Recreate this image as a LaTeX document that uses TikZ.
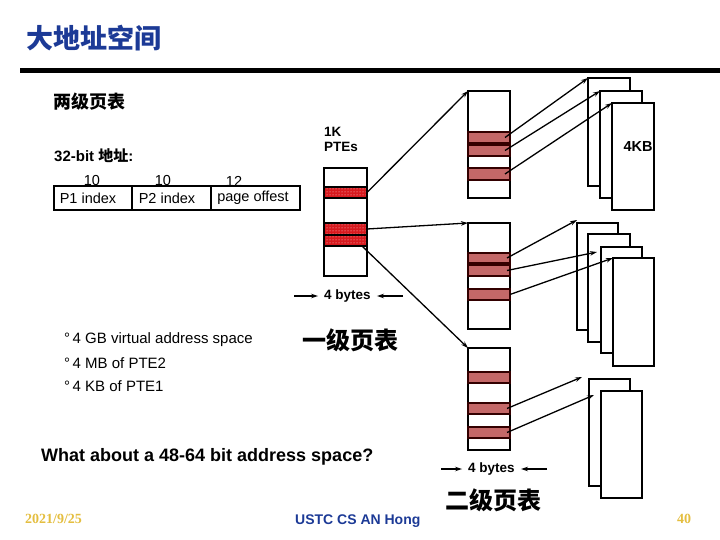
\documentclass[tikz,border=0pt]{standalone}
\usepackage{fontspec}
\setmainfont{Liberation Sans}
\newfontfamily\cjk{Noto Sans CJK SC}
\newfontfamily\serifb{Liberation Serif}
\usetikzlibrary{arrows.meta,patterns}
\definecolor{ttlblue}{RGB}{28,58,150}
\definecolor{gold}{RGB}{228,190,64}
\definecolor{redA}{RGB}{215,25,30}
\definecolor{redB}{RGB}{196,104,104}
\newcommand\rnode[6]{\node[#2, anchor=north west, minimum width={(#5-#3)*1pt}, minimum height={(#6-#4)*1pt}] (#1) at (#3,#4) {};}
\begin{document}
\begin{tikzpicture}[x=1pt,y=-1pt,
  tbl/.style={draw, line width=1.6pt, fill=white, inner sep=0pt, outer sep=0pt, rectangle},
  rowA/.style={draw, line width=1.3pt, inner sep=0pt, outer sep=0pt, rectangle, preaction={fill=redA}, pattern=dots, pattern color=white!85!redA},
  rowB/.style={draw=black!80!red, line width=1.6pt, inner sep=0pt, outer sep=0pt, rectangle, fill=redB},
  frame/.style={draw, line width=1.6pt, fill=white, inner sep=0pt, outer sep=0pt, rectangle},
  arr/.style={-{Stealth[length=7pt,width=4.5pt]}, line width=1.3pt},
  txt/.style={inner sep=0pt, font=\fontsize{14.5}{16}\selectfont},
  btxt/.style={inner sep=0pt, font=\bfseries\fontsize{14}{16}\selectfont},
  big/.style={inner sep=0pt, font=\cjk\bfseries\fontsize{24}{28}\selectfont}]
\useasboundingbox (0,0) rectangle (720,540);

% title and rule
\node[anchor=west, inner sep=0pt, text=ttlblue, font=\cjk\bfseries\fontsize{27}{30}\selectfont] (title) at (26,38) {大地址空间};
\fill (20,68) rectangle (720,73);
\node[anchor=west, inner sep=0pt, font=\cjk\bfseries\fontsize{18}{20}\selectfont] (two) at (53,102) {两级页表};

% address format
\node[anchor=west, inner sep=0pt, font=\bfseries\fontsize{15}{17}\selectfont] (addr) at (54,156) {32-bit {\cjk\bfseries 地址}:};
\rnode{c1}{tbl}{54}{186}{132}{210}
\rnode{c2}{tbl}{132}{186}{211}{210}
\rnode{c3}{tbl}{211}{186}{300}{210}
\node[txt] (n1) at (92,181) {10};
\node[txt] (n2) at (163,181) {10};
\node[txt] (n3) at (234,181) {12};
\node[txt] (l1) at (88,198) {P1 index};
\node[txt] (l2) at (167,198) {P2 index};
\node[txt] (l3) at (253,198) {page offest};

% first-level table
\node[btxt, anchor=west, font=\bfseries\fontsize{13.5}{15}\selectfont] (k1) at (324,132) {1K};
\node[btxt, anchor=west, font=\bfseries\fontsize{13.5}{15}\selectfont] (k2) at (324,147) {PTEs};
\rnode{t1}{tbl}{324}{168}{367}{276}
\rnode{ra}{rowA}{324}{187}{367}{198}
\rnode{rb}{rowA}{324}{223}{367}{235}
\rnode{rc}{rowA}{324}{235}{367}{246}
\node[btxt, font=\bfseries\fontsize{13.5}{15}\selectfont] (by1) at (347.5,296) {4 bytes};
\coordinate (by1l) at (294,296);
\coordinate (by1r) at (403,296);
\draw[arr, line width=1.1pt] (by1l) -- ([xshift=-6pt]by1.west);
\draw[arr, line width=1.1pt] (by1r) -- ([xshift=6pt]by1.east);
\node[big] (one) at (350,340) {一级页表};

% second-level tables
\rnode{t2a}{tbl}{468}{91}{510}{198}
\rnode{a1}{rowB}{468}{132}{510}{143}
\rnode{a2}{rowB}{468}{145}{510}{156}
\rnode{a3}{rowB}{468}{168}{510}{180}
\rnode{t2b}{tbl}{468}{223}{510}{329}
\rnode{b1}{rowB}{468}{253}{510}{263}
\rnode{b2}{rowB}{468}{265}{510}{276}
\rnode{b3}{rowB}{468}{289}{510}{300}
\rnode{t2c}{tbl}{468}{348}{510}{450}
\rnode{d1}{rowB}{468}{372}{510}{383}
\rnode{d2}{rowB}{468}{403}{510}{414}
\rnode{d3}{rowB}{468}{427}{510}{438}

\node[btxt, font=\bfseries\fontsize{13.5}{15}\selectfont] (by2) at (491.5,469) {4 bytes};
\coordinate (by2l) at (441,469);
\coordinate (by2r) at (547,469);
\draw[arr, line width=1.1pt] (by2l) -- ([xshift=-6pt]by2.west);
\draw[arr, line width=1.1pt] (by2r) -- ([xshift=6pt]by2.east);
\node[big] (twolvl) at (493,500) {二级页表};

% arrows first level -> second level
\draw[arr] (ra.east) -- (t2a.north west);
\draw[arr] (rb.east) -- (t2b.north west);
\draw[arr] ([xshift=-5pt]rc.south east) -- (t2c.north west);

% pages group 1
\rnode{p1a}{frame}{588}{78}{630}{186}
\rnode{p1b}{frame}{600}{91}{642}{198}
\rnode{p1c}{frame}{612}{103}{654}{210}
\node[btxt, font=\bfseries\fontsize{14.5}{16}\selectfont] (kb) at (638,147) {4KB};
\draw[arr] ([xshift=-5pt]a1.east) -- (p1a.north west);
\draw[arr] ([xshift=-5pt]a2.east) -- (p1b.north west);
\draw[arr] ([xshift=-5pt]a3.east) -- (p1c.north west);

% pages group 2
\rnode{p2a}{frame}{577}{223}{618}{330}
\rnode{p2b}{frame}{588}{234}{630}{342}
\rnode{p2c}{frame}{601}{247}{642}{353}
\rnode{p2d}{frame}{613}{258}{654}{366}
\draw[arr] ([xshift=-3pt]b1.east) -- ([yshift=3pt]p2a.north west);
\draw[arr] ([xshift=-3pt]b2.east) -- ([shift={(-4,5)}]p2c.north west);
\draw[arr] (b3.east) -- (p2d.north west);

% pages group 3
\rnode{p3a}{frame}{589}{379}{630}{486}
\rnode{p3b}{frame}{601}{391}{642}{498}
\draw[arr] ([xshift=-3pt]d2.east) -- ([shift={(-7,-2)}]p3a.north west);
\draw[arr] ([xshift=-3pt]d3.east) -- ([shift={(-7,4)}]p3b.north west);

% bullets
\node[inner sep=0pt, anchor=west, font=\fontsize{15}{17}\selectfont] (bl1) at (64,340) {°\,4 GB virtual address space};
\node[inner sep=0pt, anchor=west, font=\fontsize{15}{17}\selectfont] (bl2) at (64,363) {°\,4 MB of PTE2};
\node[inner sep=0pt, anchor=west, font=\fontsize{15}{17}\selectfont] (bl3) at (64,386) {°\,4 KB of PTE1};
\node[inner sep=0pt, anchor=west, font=\bfseries\fontsize{18}{20}\selectfont] (q) at (41,457) {What about a 48-64 bit address space?};

% footer
\node[inner sep=0pt, anchor=west, text=gold, font=\serifb\bfseries\fontsize{14}{16}\selectfont] (date) at (25,519) {2021/9/25};
\node[inner sep=0pt, anchor=west, text=ttlblue, font=\bfseries\fontsize{14}{16}\selectfont] (foot) at (295,521) {USTC CS AN Hong};
\node[inner sep=0pt, anchor=west, text=gold, font=\serifb\bfseries\fontsize{14}{16}\selectfont] (pg) at (677,519) {40};
\end{tikzpicture}
\end{document}
